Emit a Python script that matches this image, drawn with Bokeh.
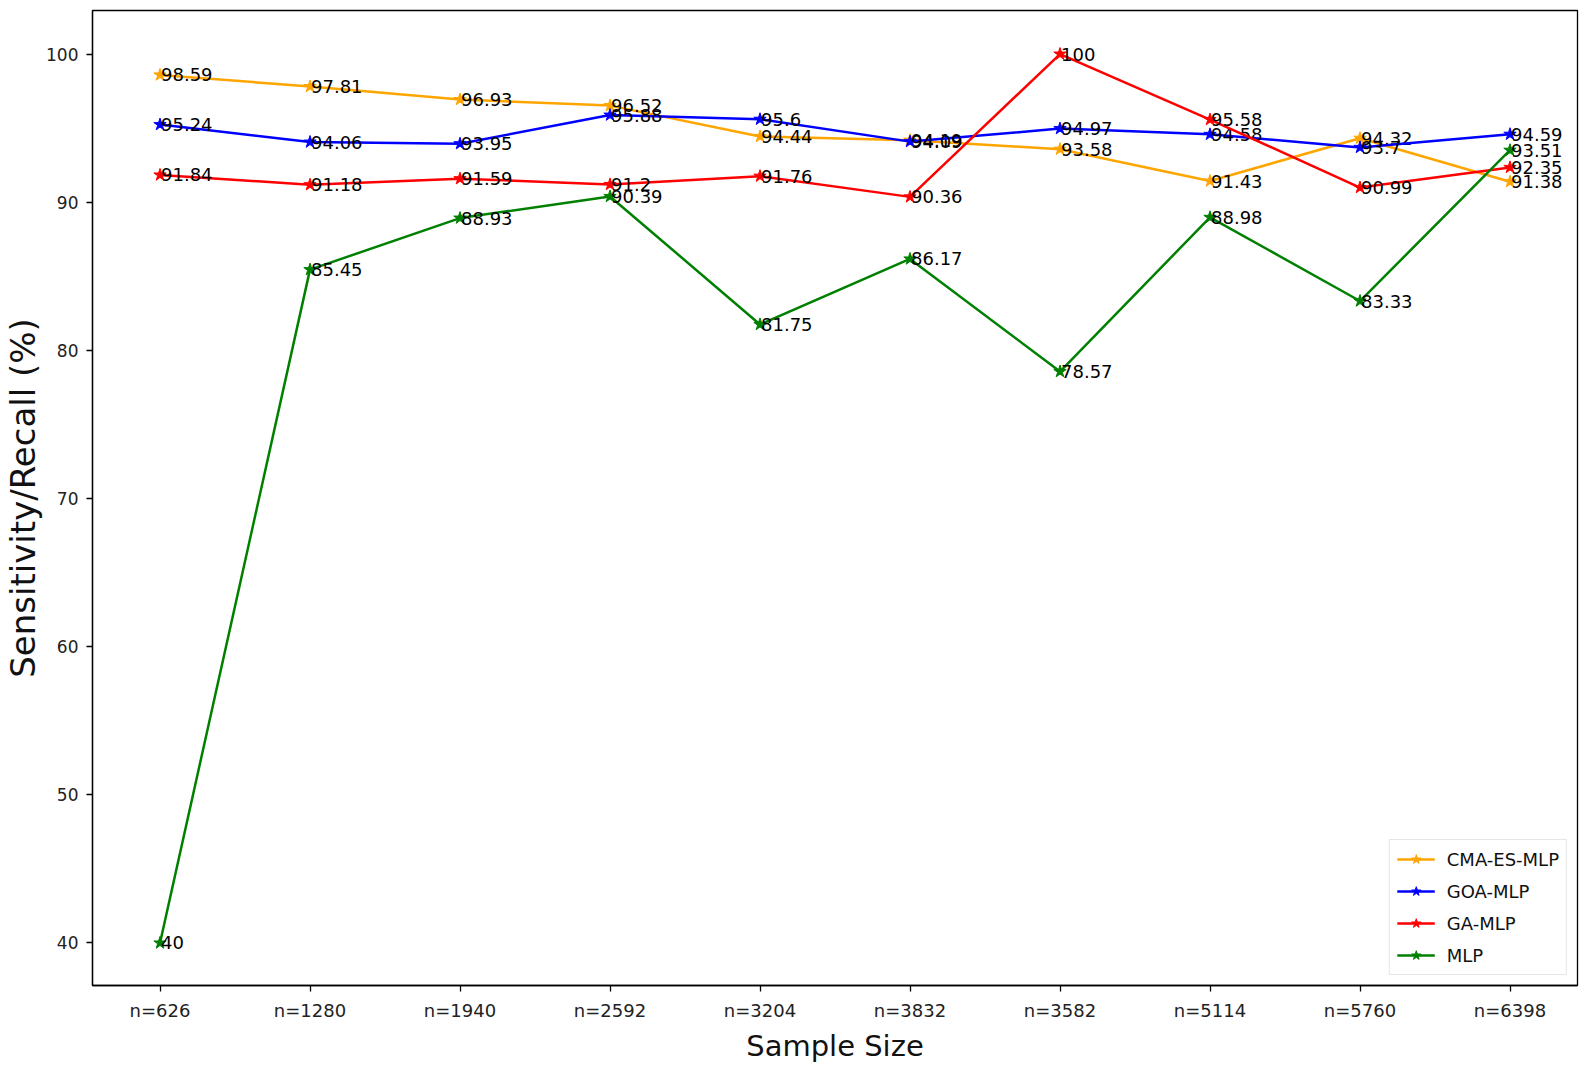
from bokeh.plotting import figure
from bokeh.models import FixedTicker, Range1d, ColumnDataSource, Legend
from bokeh.core.properties import value
from bokeh.embed import file_html
from bokeh.resources import INLINE

categories = ["n=626", "n=1280", "n=1940", "n=2592", "n=3204", "n=3832",
              "n=3582", "n=5114", "n=5760", "n=6398"]
cma_es_mlp = [98.59, 97.81, 96.93, 96.52, 94.44, 94.19, 93.58, 91.43, 94.32, 91.38]
goa_mlp = [95.24, 94.06, 93.95, 95.88, 95.6, 94.09, 94.97, 94.58, 93.7, 94.59]
ga_mlp = [91.84, 91.18, 91.59, 91.2, 91.76, 90.36, 100, 95.58, 90.99, 92.35]
mlp = [40, 85.45, 88.93, 90.39, 81.75, 86.17, 78.57, 88.98, 83.33, 93.51]
y_ticks = [40, 50, 60, 70, 80, 90, 100]

series = [
    ("CMA-ES-MLP", cma_es_mlp, "#FFA500"),
    ("GOA-MLP", goa_mlp, "#0000FF"),
    ("GA-MLP", ga_mlp, "#FF0000"),
    ("MLP", mlp, "#008000"),
]

FONT = "DejaVu Sans"

p = figure(width=1587, height=1067, output_backend="svg", toolbar_location=None,
           x_range=Range1d(-0.45, 9.45), y_range=Range1d(37.13, 102.94),
           min_border_left=90, min_border_right=10, min_border_top=10, min_border_bottom=82)
p.background_fill_color = "white"
p.border_fill_color = "white"
p.grid.visible = False
p.outline_line_color = "black"
p.outline_line_width = 1.3

xs = list(range(len(categories)))
p.xaxis.ticker = FixedTicker(ticks=xs)
p.xaxis.major_label_overrides = {i: c for i, c in enumerate(categories)}
p.yaxis.ticker = FixedTicker(ticks=y_ticks)
for ax in (p.xaxis, p.yaxis):
    ax.minor_tick_line_color = None
    ax.major_tick_in = 0
    ax.major_tick_out = 6
    ax.major_tick_line_width = 1.3
    ax.major_label_text_font = FONT
    ax.major_label_text_color = "#222222"
    ax.axis_label_text_font = FONT
    ax.axis_label_text_font_style = "normal"
    ax.axis_label_text_color = "#111111"
    ax.axis_line_color = "black"
    ax.axis_line_width = 1.3
p.xaxis.major_label_text_font_size = "18px"
p.yaxis.major_label_text_font_size = "17px"
p.xaxis.axis_label_text_font_size = "29px"
p.yaxis.axis_label_text_font_size = "34px"
p.xaxis.axis_label = "Sample Size"
p.yaxis.axis_label = "Sensitivity/Recall (%)"
p.xaxis.major_label_standoff = 8
p.yaxis.major_label_standoff = 8
p.yaxis.axis_label_standoff = 0
p.xaxis.axis_label_standoff = 5

legend_items = []
for name, vals, color in series:
    src = ColumnDataSource(dict(x=xs, y=vals, t=[f"{v:g}" for v in vals]))
    l = p.line("x", "y", source=src, line_color=color, line_width=2.5)
    s = p.scatter("x", "y", source=src, marker="star", size=13, fill_color=color,
                  line_color=color)
    p.text("x", "y", text="t", source=src, text_font=value(FONT), text_font_size="18px",
           text_color="black", text_align="left", text_baseline="alphabetic", x_offset=1)
    legend_items.append((name, [l, s]))

legend = Legend(items=legend_items, location="bottom_right")
legend.label_text_font = FONT
legend.label_text_font_size = "18px"
legend.label_text_color = "#111111"
legend.label_height = 24
legend.glyph_height = 24
legend.glyph_width = 38
legend.label_standoff = 12
legend.spacing = 8
legend.padding = 7
legend.margin = 10
legend.border_line_color = "#cccccc"
legend.border_line_width = 1.2
legend.background_fill_alpha = 0.85
p.add_layout(legend, "center")

open("out.html", "w").write(file_html(p, INLINE))
